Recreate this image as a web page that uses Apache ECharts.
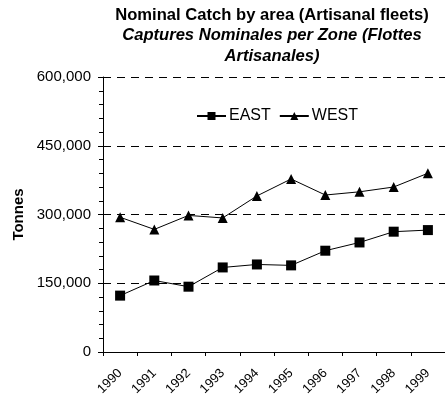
<!DOCTYPE html>
<html>
<head>
<meta charset="utf-8">
<script src="https://cdn.jsdelivr.net/npm/echarts@6/dist/echarts.min.js"></script>
<style>html,body{margin:0;padding:0;background:#fff}#c{width:445px;height:405px}</style>
</head>
<body>
<div id="c"></div>
<script>
var years = ['1990','1991','1992','1993','1994','1995','1996','1997','1998','1999'];
var east = [123000, 156000, 142500, 184500, 191000, 189000, 221000, 239000, 262500, 266000];
var west = [294000, 267500, 298000, 292500, 340500, 377500, 342500, 349500, 360000, 390000];
var yTicks = [0, 150000, 300000, 450000, 600000];

var FONT = '"Liberation Sans", Arial, sans-serif';
var chart = echarts.init(document.getElementById('c'), null, {renderer: 'canvas'});
chart.setOption({
  animation: false,
  backgroundColor: '#fff',
  textStyle: {fontFamily: FONT},
  title: {
    left: 267, top: 0, textAlign: 'center',
    text: '{a|Nominal Catch by area (Artisanal fleets)}\n{b|Captures Nominales per Zone (Flottes}\n{b|Artisanales)}',
    textStyle: {
      rich: {
        a: {fontFamily: FONT, fontSize: 16.6, fontWeight: 'bold', color: '#000', lineHeight: 20.5, align: 'center'},
        b: {fontFamily: FONT, fontSize: 16.6, fontWeight: 'bold', fontStyle: 'italic', color: '#000', lineHeight: 20.5, align: 'center'}
      }
    }
  },
  legend: {
    left: 191, top: 103,
    itemWidth: 29, itemHeight: 10, itemGap: 8,
    textStyle: {fontFamily: FONT, fontSize: 16, color: '#000', padding: [0, 0, 0, -2]},
    data: [{name: 'EAST'}, {name: 'WEST'}]
  },
  grid: {left: 103, top: 77, width: 350, height: 275, containLabel: false},
  xAxis: {
    type: 'category', data: years, boundaryGap: true,
    axisLine: {lineStyle: {color: '#000', width: 1}},
    axisTick: {show: true, length: 4, inside: false, lineStyle: {color: '#000'}},
    axisLabel: {rotate: 45, fontFamily: FONT, fontSize: 13, color: '#000', margin: 19}
  },
  yAxis: {
    type: 'value', min: yTicks[0], max: yTicks[yTicks.length - 1], interval: yTicks[1] - yTicks[0],
    name: 'Tonnes', nameLocation: 'middle', nameGap: 74, nameRotate: 90,
    nameTextStyle: {fontFamily: FONT, fontSize: 15, fontWeight: 'bold', color: '#000'},
    axisLine: {show: true, lineStyle: {color: '#000', width: 1}},
    axisTick: {show: true, length: 5, lineStyle: {color: '#000'}},
    minorTick: {show: true, splitNumber: 5, length: 4, lineStyle: {color: '#000'}},
    axisLabel: {fontFamily: FONT, fontSize: 15, color: '#000', margin: 12,
      formatter: function (v) { return v.toLocaleString('en-US'); }},
    splitLine: {show: true, lineStyle: {color: '#000', type: [8, 6], width: 1}}
  },
  series: [
    {name: 'EAST', type: 'line', data: east, symbol: 'rect', symbolSize: 10,
     itemStyle: {color: '#000'}, lineStyle: {color: '#000', width: 1}},
    {name: 'WEST', type: 'line', data: west, symbol: 'triangle', symbolSize: 10,
     itemStyle: {color: '#000'}, lineStyle: {color: '#000', width: 1}}
  ]
});
</script>
</body>
</html>
